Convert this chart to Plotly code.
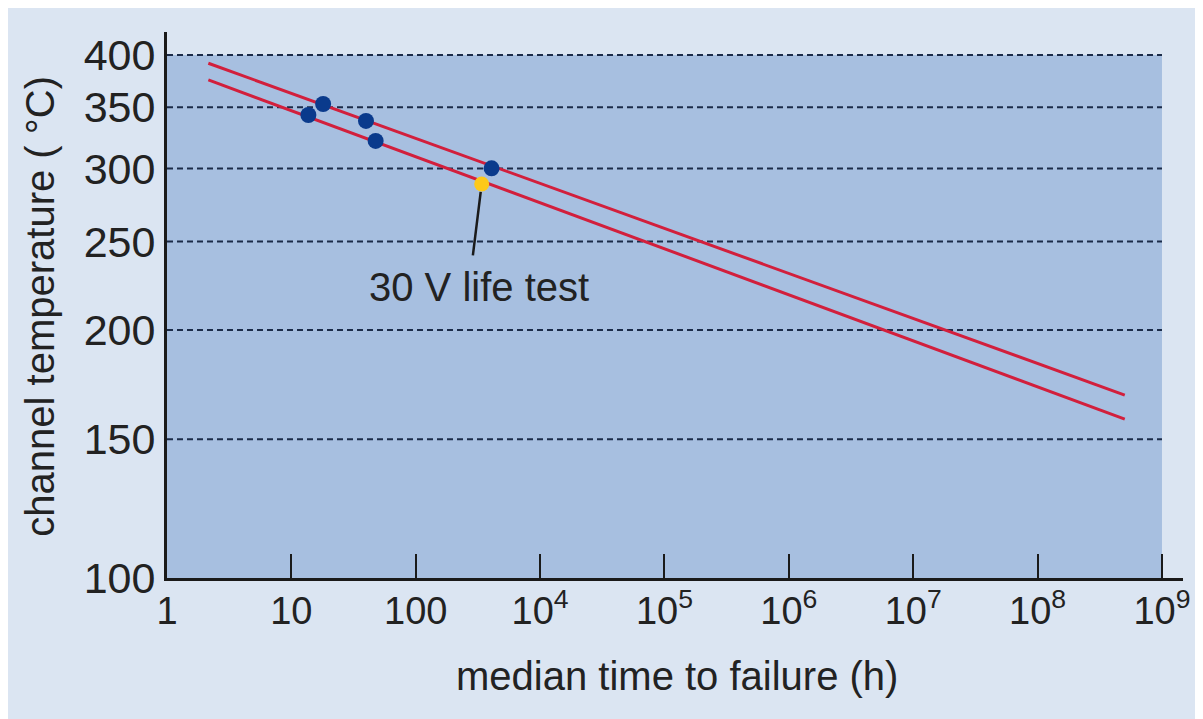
import math
import plotly.graph_objects as go

# ---------------- data ----------------
time_tick_vals_h = [1, 10, 100, 1e3, 1e4, 1e5, 1e6, 1e7, 1e8]
time_tick_text = ["1", "10", "100", "10<sup>4</sup>", "10<sup>5</sup>", "10<sup>6</sup>",
                  "10<sup>7</sup>", "10<sup>8</sup>", "10<sup>9</sup>"]
temp_ticks_c = [100, 150, 200, 250, 300, 350, 400]
grid_temps_c = [150, 200, 250, 300, 350, 400]

blue_time_h = [13.7, 18.0, 39.8, 47.6, 407]
blue_temp_c = [343.1, 352.8, 338.0, 321.4, 300.1]

life_test_time_h = [339]
life_test_temp_c = [288.6]

upper_line_time_h = [2.15, 5.02e7]
upper_line_temp_c = [391.5, 168.9]
lower_line_time_h = [2.15, 5.02e7]
lower_line_temp_c = [375.1, 158.4]

x_max_h = 10 ** 8.169
y_top_c = 424.6


def inv_k(t_c):
    """Arrhenius scale: 1000 / absolute temperature."""
    return 1000.0 / (t_c + 273.15)


def inv_list(lst):
    return [inv_k(t) for t in lst]


# ---------------- styles ----------------
FONT = "Arial"
TXT = "#222222"
AX = "#1a1a1a"
OUTER_BG = "#dbe5f2"
PLOT_BG = "#a7bfe0"
RED = "#d21f3c"
BLUE = "#0a3a8c"
YELLOW = "#fdc91a"
GRID = "#1b2b48"

fig = go.Figure()

fig.add_trace(go.Scatter(x=upper_line_time_h, y=inv_list(upper_line_temp_c), mode="lines",
                         line=dict(color=RED, width=3), showlegend=False, hoverinfo="skip"))
fig.add_trace(go.Scatter(x=lower_line_time_h, y=inv_list(lower_line_temp_c), mode="lines",
                         line=dict(color=RED, width=3), showlegend=False, hoverinfo="skip"))
fig.add_trace(go.Scatter(x=blue_time_h, y=inv_list(blue_temp_c), mode="markers",
                         marker=dict(color=BLUE, size=16, line=dict(width=0)), showlegend=False))
fig.add_trace(go.Scatter(x=life_test_time_h, y=inv_list(life_test_temp_c), mode="markers",
                         marker=dict(color=YELLOW, size=15, line=dict(width=0)), showlegend=False))

shapes = []
# plot area background
shapes.append(dict(type="rect", xref="x", yref="y", x0=time_tick_vals_h[0], x1=time_tick_vals_h[-1],
                   y0=inv_k(temp_ticks_c[0]), y1=inv_k(temp_ticks_c[-1]),
                   fillcolor=PLOT_BG, line=dict(width=0), layer="below"))
for t in grid_temps_c:
    shapes.append(dict(type="line", xref="x", yref="y", x0=time_tick_vals_h[0], x1=time_tick_vals_h[-1],
                       y0=inv_k(t), y1=inv_k(t), line=dict(color=GRID, width=2, dash="6px,4px"),
                       layer="below"))

annotations = [
    # leader line
    dict(x=math.log10(life_test_time_h[0]), y=inv_k(life_test_temp_c[0]), xref="x", yref="y",
         text="", showarrow=True, arrowhead=0, arrowwidth=2.5, arrowcolor=AX,
         ax=-9, ay=73, standoff=8),
    dict(x=math.log10(life_test_time_h[0]), y=inv_k(life_test_temp_c[0]), xref="x", yref="y",
         text="30 V life test", showarrow=False, xshift=-3, yshift=-103,
         xanchor="center", yanchor="middle",
         font=dict(family=FONT, size=40, color=TXT)),
    dict(x=0.502, y=-0.1795, xref="paper", yref="paper", text="median time to failure (h)",
         showarrow=False, xanchor="center", yanchor="middle",
         font=dict(family=FONT, size=40, color=TXT)),
    dict(x=-0.125, y=0.497, xref="paper", yref="paper", text="channel temperature ( \u00b0C)",
         textangle=-90, showarrow=False, xanchor="center", yanchor="middle",
         font=dict(family=FONT, size=40, color=TXT)),
]

fig.update_layout(
    width=1195, height=711,
    margin=dict(l=159, r=20, t=24, b=141, autoexpand=False),
    paper_bgcolor=OUTER_BG,
    plot_bgcolor="rgba(0,0,0,0)",
    shapes=shapes,
    annotations=annotations,
    showlegend=False,
    xaxis=dict(type="log", range=[0, math.log10(x_max_h)],
               tickvals=time_tick_vals_h, ticktext=time_tick_text,
               ticks="inside", ticklen=24, tickwidth=2, tickcolor=AX,
               showline=True, linewidth=3, linecolor=AX,
               showgrid=False, zeroline=False, automargin=False,
               ticklabelstandoff=-3,
               tickfont=dict(family=FONT, size=38, color=TXT)),
    yaxis=dict(range=[inv_k(temp_ticks_c[0]), inv_k(y_top_c)],
               tickvals=inv_list(temp_ticks_c), ticktext=[str(t) for t in temp_ticks_c],
               ticks="", showline=True, linewidth=3, linecolor=AX,
               showgrid=False, zeroline=False, automargin=False,
               tickfont=dict(family=FONT, size=43, color=TXT)),
)

fig.write_html("out.html")
